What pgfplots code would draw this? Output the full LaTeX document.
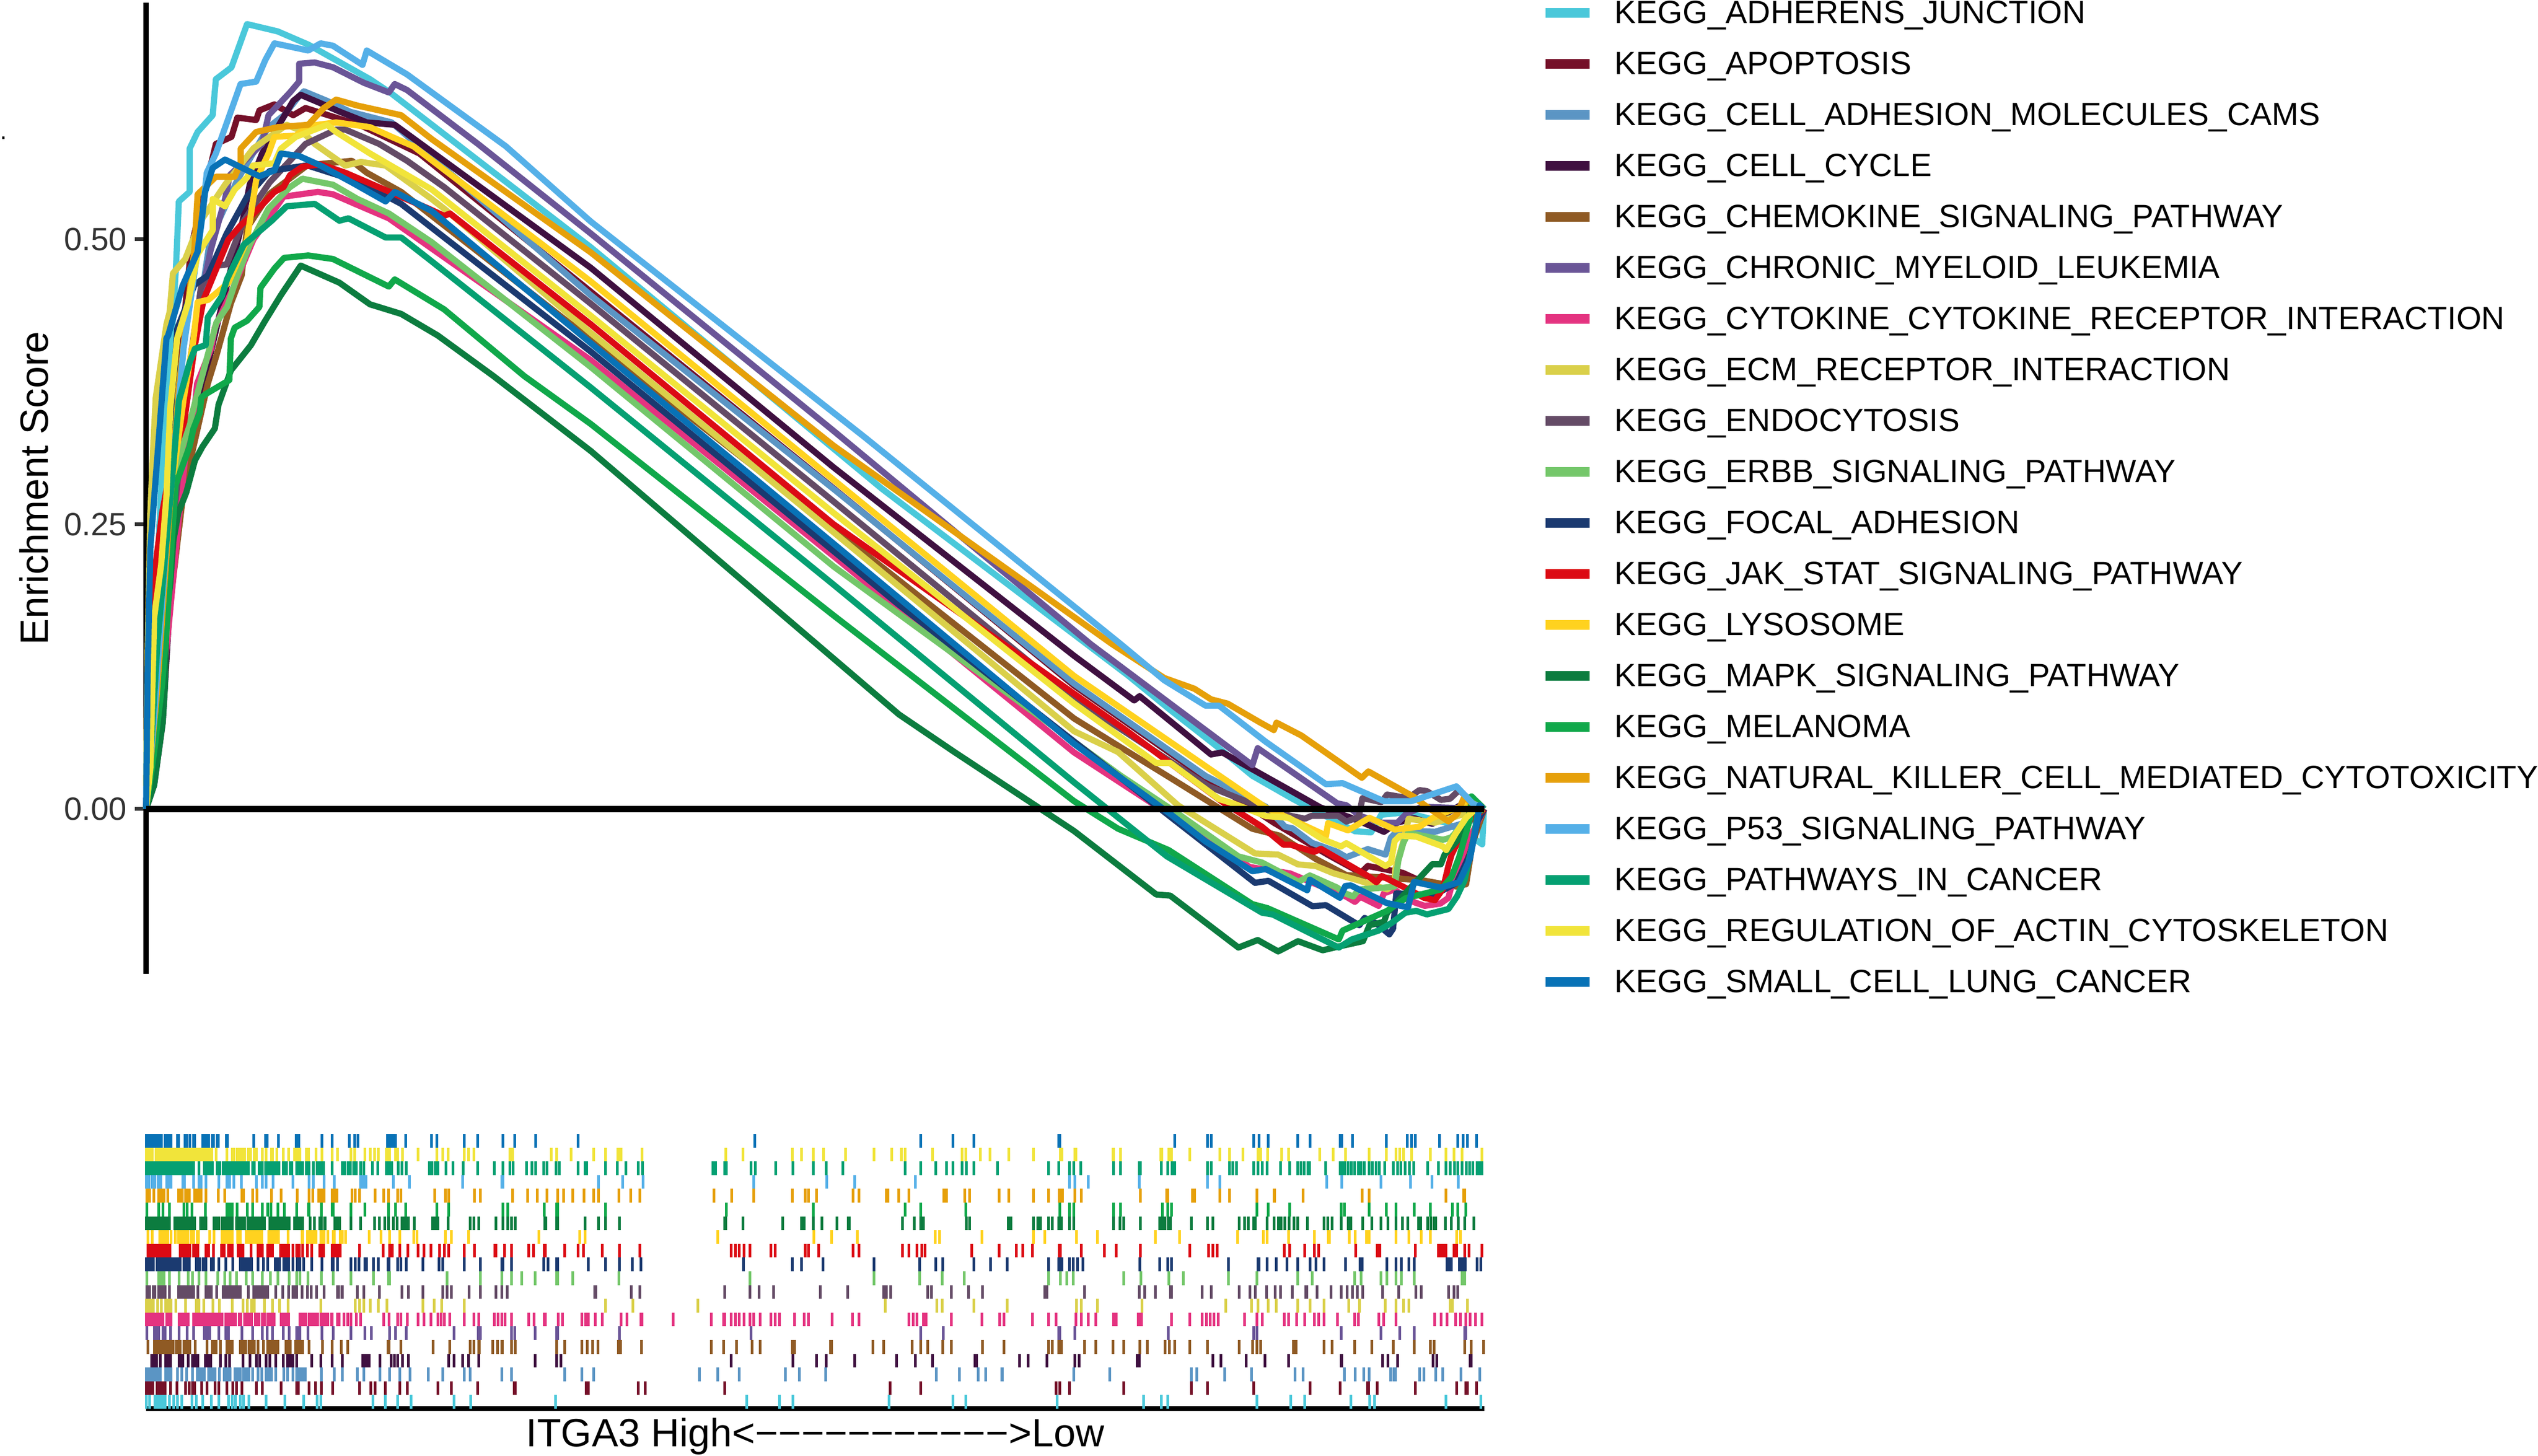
\documentclass[border=0pt]{standalone}
\usepackage{fontspec}
\setmainfont{Liberation Sans}
\usepackage{pgfplots}
\pgfplotsset{compat=1.18}

\definecolor{cAdh}{HTML}{4AC8DA}
\definecolor{cApo}{HTML}{751029}
\definecolor{cCam}{HTML}{5B95C4}
\definecolor{cCyc}{HTML}{3F1040}
\definecolor{cChe}{HTML}{8F5A24}
\definecolor{cCml}{HTML}{6A5597}
\definecolor{cCyt}{HTML}{E43380}
\definecolor{cEcm}{HTML}{DAD04A}
\definecolor{cEnd}{HTML}{644B66}
\definecolor{cErb}{HTML}{74C76A}
\definecolor{cFoc}{HTML}{1B3A70}
\definecolor{cJak}{HTML}{DC0A14}
\definecolor{cLys}{HTML}{FFD21F}
\definecolor{cMap}{HTML}{0C7C3F}
\definecolor{cMel}{HTML}{10A84A}
\definecolor{cNkc}{HTML}{E6A00A}
\definecolor{cP53}{HTML}{55B0E8}
\definecolor{cPat}{HTML}{05A072}
\definecolor{cReg}{HTML}{F1E43A}
\definecolor{cSma}{HTML}{0872B6}
\definecolor{tickgrey}{HTML}{333333}

% one row of the rug: colour, row centre, ranks
\newcommand{\rug}[3]{\addplot[only marks, mark=|, mark size=2.56pt, color=#1, mark options={line width=1pt}]
  table[row sep=crcr, header=false, x index=0, y expr=#2]{#3};}

\begin{document}
\begin{tikzpicture}
\useasboundingbox (0,0) rectangle (945.2pt,542.4pt);

\begin{axis}[
  at={(54.4pt,179.6pt)}, anchor=south west,
  scale only axis, width=498.4pt, height=361.8pt,
  xmin=0, xmax=2492, ymin=-0.1447, ymax=0.7078,
  clip=false,
  axis x line=none, axis y line=left,
  y axis line style={-, line width=2pt, black},
  ytick={0,0.25,0.5}, ytick align=outside,
  major tick length=4.2pt,
  tick style={line width=1.4pt, tickgrey},
  yticklabel style={/pgf/number format/fixed, /pgf/number format/fixed zerofill,
    /pgf/number format/precision=2, /pgf/number format/assume math mode=true,
    font=\fontsize{12}{12}\selectfont, text=tickgrey, inner xsep=2.8pt},
  ylabel={Enrichment Score},
  every axis y label/.style={at={(axis description cs:-0.0839,0.5)}, rotate=90, anchor=center},
  ylabel style={font=\fontsize{14.7}{14.7}\selectfont},
  every axis plot/.append style={line width=2.3pt, line join=round, no marks},
  legend cell align=left,
  legend image code/.code={\draw[#1, line width=3.6pt] (0,0.9pt) -- (16.4pt,0.9pt);},
  legend style={at={(1.0417,1.0)}, anchor=north west, draw=none, fill=none, inner sep=0pt, yshift=1pt,
    font=\fontsize{12}{12}\selectfont, row sep=8pt, column sep=7.6pt,
    nodes={inner sep=0pt, text height=8.6pt, text depth=2.4pt}},
]
\addplot[cAdh] coordinates {(0,0)(10,.1)(30,.3)(50,.43)(56,.4786)(61,.5333)(81,.5417)(81,.5796)(96,.5943)(124,.609)(130,.6406)(159,.651)(188,.689)(245,.6826)(302,.671)(417,.6406)(457,.628)(828,.4931)(1370,.2812)(1828,.1174)(1907,.087)(1993,.0553)(2060,.0292)(2136,.0087)(2162,.0022)(2251,-.0195)(2281,-.0205)(2300,-.005)(2345,-.003)(2420,-.012)(2470,-.025)(2488,-.031)(2491,-.002)};
\addlegendentry{KEGG\_ADHERENS\_JUNCTION}
\addplot[cApo] coordinates {(0,0)(20,.12)(50,.33)(84,.4933)(110,.545)(130,.5838)(159,.59)(170,.6069)(205,.6048)(211,.6132)(239,.6185)(274,.609)(297,.6153)(325,.6111)(400,.60)(509,.5754)(828,.4541)(1280,.2815)(1728,.1084)(1978,.0255)(2100,-.012)(2200,-.04)(2262,-.056)(2275,-.05)(2340,-.056)(2371,-.0627)(2420,-.07)(2460,-.04)(2480,-.01)(2492,0)};
\addlegendentry{KEGG\_APOPTOSIS}
\addplot[cCam] coordinates {(0,0)(20,.1)(50,.28)(80,.38)(100,.44)(119,.4996)(170,.5522)(228,.5985)(257,.609)(285,.6258)(294,.63)(337,.6216)(380,.612)(457,.6027)(828,.451)(1280,.281)(1728,.11)(1973,.029)(2085,.002)(2121,-.0156)(2135,-.017)(2171,-.0297)(2191,-.033)(2218,-.0376)(2235,-.0423)(2275,-.0352)(2308,-.04)(2318,-.025)(2331,-.0187)(2400,-.02)(2470,-.01)(2492,0)};
\addlegendentry{KEGG\_CELL\_ADHESION\_MOLECULES\_CAMS}
\addplot[cCyc] coordinates {(0,0)(15,.021)(31,.076)(45,.1864)(60,.25)(100,.36)(140,.44)(179,.5143)(193,.548)(216,.5754)(274,.6216)(288,.6269)(325,.6195)(360,.6122)(411,.6027)(463,.6006)(828,.4751)(1280,.3)(1728,.1345)(1840,.0953)(1850,.0991)(1983,.0479)(2004,.0497)(2131,.0162)(2187,.0013)(2240,-.007)(2281,-.015)(2305,-.02)(2330,-.012)(2361,-.008)(2395,-.013)(2421,-.004)(2450,.004)(2471,.006)(2492,0)};
\addlegendentry{KEGG\_CELL\_CYCLE}
\addplot[cChe] coordinates {(0,0)(20,.06)(35,.113)(38,.1527)(70,.28)(115,.3734)(131,.398)(158,.444)(178,.4685)(188,.51)(230,.54)(300,.565)(383,.569)(411,.5585)(475,.5417)(828,.412)(1280,.246)(1728,.0795)(1805,.057)(1901,.0292)(2060,-.0173)(2111,-.0234)(2178,-.0438)(2235,-.058)(2300,-.06)(2378,-.0627)(2440,-.068)(2458,-.066)(2470,-.03)(2492,0)};
\addlegendentry{KEGG\_CHEMOKINE\_SIGNALING\_PATHWAY}
\addplot[cCml] coordinates {(0,0)(30,.18)(60,.32)(90,.42)(120,.49)(147,.5354)(156,.5564)(216,.5838)(228,.609)(268,.629)(285,.6385)(285,.6542)(314,.6553)(348,.6511)(406,.6374)(452,.629)(463,.6364)(486,.6311)(618,.5838)(828,.5052)(1280,.332)(1759,.1447)(2060,.0385)(2070,.0534)(2218,.005)(2235,.0033)(2260,-.006)(2300,-.012)(2330,-.012)(2345,-.005)(2375,.002)(2492,0)};
\addlegendentry{KEGG\_CHRONIC\_MYELOID\_LEUKEMIA}
\addplot[cCyt] coordinates {(0,0)(20,.06)(40,.15)(60,.25)(75,.3183)(88,.34)(95,.3734)(121,.4041)(128,.4225)(160,.455)(200,.50)(256,.5375)(320,.5417)(348,.5396)(389,.5312)(452,.5185)(828,.394)(1280,.222)(1728,.0497)(2055,-.0509)(2130,-.0565)(2235,-.077)(2251,-.0815)(2261,-.077)(2295,-.085)(2305,-.074)(2325,-.0706)(2350,-.08)(2381,-.085)(2410,-.083)(2425,-.078)(2435,-.06)(2460,-.03)(2492,0)};
\addlegendentry{KEGG\_CYTOKINE\_CYTOKINE\_RECEPTOR\_INTERACTION}
\addplot[cEcm] coordinates {(0,.02)(3,.14)(8,.26)(13,.315)(18,.361)(38,.4255)(44,.4365)(50,.4701)(73,.4828)(100,.515)(147,.548)(200,.58)(262,.6006)(290,.595)(314,.5838)(371,.5648)(400,.568)(446,.5648)(532,.5354)(555,.527)(828,.418)(1280,.243)(1728,.0683)(1810,.05)(1922,.0031)(2065,-.039)(2108,-.04)(2145,-.0486)(2178,-.05)(2211,-.0564)(2258,-.0627)(2311,-.0706)(2325,-.066)(2326,-.053)(2340,-.03)(2351,-.0085)(2400,-.012)(2450,-.005)(2492,0)};
\addlegendentry{KEGG\_ECM\_RECEPTOR\_INTERACTION}
\addplot[cEnd] coordinates {(0,0)(20,.08)(50,.25)(80,.38)(102,.4575)(124,.4765)(150,.478)(182,.5164)(230,.55)(297,.5838)(354,.5964)(371,.5964)(434,.5838)(486,.569)(555,.5459)(828,.4436)(1280,.27)(1728,.097)(1978,.02)(2100,-.003)(2158,-.0085)(2170,-.006)(2220,-.006)(2235,-.011)(2258,-.007)(2265,.0096)(2300,.006)(2311,.0127)(2350,.0095)(2371,.0166)(2385,.0157)(2411,.008)(2428,.009)(2445,.0166)(2470,.006)(2492,0)};
\addlegendentry{KEGG\_ENDOCYTOSIS}
\addplot[cErb] coordinates {(0,0)(18,.073)(31,.0945)(43,.1987)(55,.2937)(68,.3182)(85,.3458)(110,.39)(131,.4271)(151,.4409)(170,.468)(193,.4954)(228,.527)(268,.5459)(291,.5533)(348,.548)(394,.5354)(452,.5228)(532,.4975)(828,.388)(1280,.213)(1815,.0292)(1922,-.0043)(2034,-.0416)(2078,-.047)(2146,-.0639)(2167,-.0583)(2218,-.069)(2231,-.0737)(2248,-.0768)(2258,-.0706)(2305,-.069)(2325,-.068)(2332,-.045)(2341,-.03)(2350,-.021)(2415,-.027)(2430,-.025)(2460,-.01)(2492,0)};
\addlegendentry{KEGG\_ERBB\_SIGNALING\_PATHWAY}
\addplot[cFoc] coordinates {(0,0)(20,.1)(40,.28)(58,.4215)(90,.46)(115,.4683)(150,.505)(188,.5375)(230,.56)(300,.565)(400,.55)(475,.5312)(828,.4015)(1400,.18)(2065,-.0648)(2090,-.063)(2172,-.0853)(2197,-.0844)(2259,-.1021)(2269,-.0956)(2291,-.1004)(2315,-.11)(2322,-.105)(2328,-.074)(2360,-.075)(2400,-.075)(2440,-.065)(2465,-.04)(2480,-.01)(2492,0)};
\addlegendentry{KEGG\_FOCAL\_ADHESION}
\addplot[cJak] coordinates {(0,0)(16,.208)(30,.26)(50,.31)(71,.3397)(90,.4049)(107,.447)(153,.4996)(176,.5122)(205,.5248)(239,.5417)(256,.5459)(268,.5564)(291,.5638)(325,.5659)(371,.5585)(526,.527)(555,.5207)(566,.5227)(828,.4255)(1280,.25)(1828,.068)(2004,.0063)(2078,-.0156)(2118,-.0313)(2131,-.0313)(2175,-.0376)(2188,-.035)(2278,-.0596)(2291,-.0643)(2301,-.0588)(2351,-.0706)(2380,-.078)(2400,-.08)(2415,-.07)(2425,-.05)(2431,-.04)(2460,-.012)(2492,0)};
\addlegendentry{KEGG\_JAK\_STAT\_SIGNALING\_PATHWAY}
\addplot[cLys] coordinates {(0,0)(20,.12)(50,.29)(70,.36)(88,.4112)(96,.4449)(116,.447)(153,.4617)(188,.4996)(205,.5522)(228,.5754)(239,.59)(279,.5911)(302,.5995)(354,.6027)(417,.5985)(457,.5901)(498,.5817)(828,.4631)(1280,.289)(1728,.1168)(2085,.0013)(2191,-.0219)(2197,-.024)(2201,-.0124)(2238,-.0187)(2278,-.0077)(2325,-.018)(2371,-.0156)(2395,-.008)(2425,-.002)(2460,.004)(2492,0)};
\addlegendentry{KEGG\_LYSOSOME}
\addplot[cMap] coordinates {(0,0)(15,.021)(31,.076)(35,.107)(38,.168)(45,.198)(51,.236)(60,.26)(75,.278)(91,.306)(105,.318)(128,.334)(135,.355)(158,.385)(195,.407)(221,.428)(251,.451)(288,.477)(360,.462)(417,.443)(475,.4346)(543,.4157)(647,.38)(828,.3143)(1402,.083)(1504,.0504)(1728,-.0193)(1881,-.075)(1907,-.076)(2034,-.1216)(2070,-.115)(2108,-.125)(2145,-.116)(2191,-.124)(2218,-.121)(2266,-.116)(2278,-.102)(2305,-.099)(2311,-.091)(2395,-.0485)(2411,-.0485)(2418,-.04)(2445,-.026)(2465,-.003)(2490,-.001)};
\addlegendentry{KEGG\_MAPK\_SIGNALING\_PATHWAY}
\addplot[cMel] coordinates {(0,0)(15,.05)(30,.11)(40,.17)(48,.2355)(55,.2845)(81,.3182)(88,.3336)(100,.348)(103,.3612)(111,.3642)(155,.3765)(158,.4133)(165,.4225)(188,.4286)(211,.4407)(213,.4575)(239,.4744)(257,.4838)(302,.4859)(348,.4828)(452,.4586)(463,.4649)(555,.4386)(704,.3801)(828,.338)(1280,.17)(1728,.0069)(1810,-.0173)(1904,-.036)(2060,-.0835)(2088,-.087)(2221,-.1145)(2228,-.1067)(2311,-.0894)(2345,-.0784)(2411,-.0706)(2431,-.0596)(2445,-.0423)(2465,-.0093)(2468,.0111)(2492,0)};
\addlegendentry{KEGG\_MELANOMA}
\addplot[cNkc] coordinates {(0,0)(20,.1)(45,.27)(61,.3703)(80,.45)(90,.4912)(96,.5396)(130,.555)(165,.555)(176,.567)(176,.5796)(205,.5943)(245,.5985)(302,.6006)(331,.6153)(354,.6227)(394,.6174)(475,.609)(532,.588)(828,.4886)(1280,.319)(1799,.1447)(1896,.115)(1952,.1056)(1983,.0963)(2014,.0925)(2075,.0758)(2100,.0693)(2105,.0758)(2151,.0646)(2264,.0274)(2276,.033)(2361,.0106)(2381,.0033)(2425,-.0109)(2441,-.0046)(2455,.0111)(2465,.0064)(2492,0)};
\addlegendentry{KEGG\_NATURAL\_KILLER\_CELL\_MEDIATED\_CYTOTOXICITY}
\addplot[cP53] coordinates {(0,0)(15,.08)(40,.25)(70,.405)(90,.47)(105,.52)(113,.5585)(130,.5754)(176,.6364)(205,.6385)(222,.6574)(239,.6721)(302,.6658)(325,.6721)(348,.67)(403,.6532)(411,.6658)(486,.6448)(670,.5817)(828,.5157)(1338,.3264)(1815,.1447)(1896,.113)(1973,.0907)(1998,.0907)(2085,.059)(2197,.0218)(2228,.0227)(2305,.0069)(2356,.0069)(2440,.0199)(2470,.005)(2492,0)};
\addlegendentry{KEGG\_P53\_SIGNALING\_PATHWAY}
\addplot[cPat] coordinates {(0,0)(10,.06)(21,.1435)(35,.22)(51,.3029)(61,.3581)(81,.3918)(91,.404)(111,.4072)(115,.4317)(141,.45)(151,.4654)(182,.4954)(234,.5164)(262,.5291)(314,.5312)(360,.5164)(377,.5185)(446,.5017)(475,.5017)(532,.4807)(828,.37)(1280,.197)(1728,.0234)(1901,-.0416)(2078,-.091)(2098,-.0926)(2221,-.1216)(2245,-.1145)(2295,-.1067)(2318,-.1004)(2345,-.091)(2365,-.0894)(2385,-.0925)(2425,-.0878)(2441,-.0768)(2455,-.0627)(2471,-.0281)(2481,0)(2491,0)};
\addlegendentry{KEGG\_PATHWAYS\_IN\_CANCER}
\addplot[cReg] coordinates {(0,0)(8,.036)(15,.168)(28,.214)(38,.2753)(45,.352)(58,.4133)(78,.4439)(96,.487)(124,.508)(124,.5354)(147,.5291)(165,.5438)(188,.5543)(199,.5648)(239,.5669)(251,.5796)(279,.5901)(314,.5964)(337,.6006)(354,.5943)(417,.5754)(532,.5438)(828,.433)(1280,.26)(1728,.0926)(1881,.0404)(1907,.0404)(1998,.0087)(2024,.005)(2085,-.0062)(2128,-.0077)(2191,-.0266)(2225,-.0329)(2235,-.03)(2308,-.05)(2318,-.047)(2325,-.028)(2335,-.0234)(2365,-.0242)(2415,-.0329)(2421,-.036)(2438,-.022)(2458,-.0077)(2471,-.002)(2492,0)};
\addlegendentry{KEGG\_REGULATION\_OF\_ACTIN\_CYTOSKELETON}
\addplot[cSma] coordinates {(0,0)(3,.12)(8,.2293)(18,.2907)(28,.352)(38,.4133)(41,.4155)(68,.4593)(96,.4891)(110,.5417)(124,.5627)(147,.5701)(211,.5554)(239,.5606)(251,.5754)(285,.5732)(325,.5648)(383,.5501)(446,.5333)(463,.5417)(532,.5249)(828,.409)(1280,.233)(1728,.0572)(1907,-.0043)(1973,-.0285)(2060,-.0546)(2085,-.0527)(2162,-.0713)(2167,-.062)(2223,-.0779)(2233,-.0676)(2243,-.067)(2310,-.0825)(2350,-.0863)(2361,-.0639)(2411,-.069)(2445,-.0642)(2465,-.0439)(2478,-.0124)(2483,.0033)(2490,0)};
\addlegendentry{KEGG\_SMALL\_CELL\_LUNG\_CANCER}
\addplot[black, line width=2.4pt, forget plot] coordinates {(0,0)(2492,0)};
\end{axis}

\begin{axis}[
  at={(54.4pt,17.6pt)}, anchor=south west,
  scale only axis, width=498.4pt, height=102.4pt,
  xmin=0, xmax=2492, ymin=0, ymax=20,
  clip=false,
  axis y line=none, axis x line=bottom,
  x axis line style={-, line width=1.8pt, black},
  xtick=\empty,
  xlabel={ITGA3 High<−−−−−−−−−−−>Low},
  xlabel style={font=\fontsize{14.7}{14.7}\selectfont, at={(axis description cs:0.5,0)}, anchor=center, yshift=-10.4pt},
]
\rug{cAdh}{0.5}{0\\6\\16\\19\\22\\25\\30\\33\\35\\43\\51\\58\\66\\85\\93\\105\\121\\135\\153\\160\\166\\175\\181\\191\\223\\258\\293\\318\\325\\422\\445\\468\\493\\573\\604\\762\\1118\\1179\\1204\\1383\\1502\\1526\\1696\\1857\\1890\\1902\\2068\\2131\\2157\\2243\\2278\\2287\\2420\\2485\\}
\rug{cApo}{1.5}{0\\3\\6\\9\\12\\20\\23\\26\\30\\35\\45\\57\\73\\80\\86\\90\\103\\113\\128\\135\\150\\161\\168\\178\\205\\216\\251\\280\\283\\303\\315\\326\\347\\397\\418\\426\\445\\472\\486\\543\\568\\617\\685\\687\\819\\823\\916\\929\\1077\\1385\\1442\\1694\\1701\\1719\\1820\\1946\\1976\\2062\\2167\\2223\\2274\\2276\\2292\\2363\\2440\\2457\\2460\\2477\\}
\rug{cCam}{2.5}{0\\3\\6\\9\\11\\16\\19\\22\\26\\36\\39\\42\\46\\58\\66\\75\\86\\95\\98\\101\\104\\108\\116\\119\\122\\125\\128\\136\\145\\148\\151\\154\\156\\165\\170\\175\\181\\184\\187\\191\\198\\208\\215\\223\\226\\229\\233\\241\\256\\263\\273\\280\\283\\286\\289\\292\\296\\326\\350\\365\\393\\405\\435\\453\\472\\491\\525\\552\\592\\603\\662\\680\\779\\811\\833\\1030\\1064\\1104\\1190\\1216\\1265\\1471\\1514\\1549\\1563\\1593\\1594\\1727\\1794\\1946\\1956\\2008\\2058\\2139\\2154\\2231\\2251\\2267\\2277\\2317\\2323\\2326\\2371\\2379\\2401\\2414\\2448\\2483\\}
\rug{cCyc}{3.5}{10\\15\\19\\26\\36\\39\\42\\45\\61\\64\\68\\78\\86\\89\\92\\96\\110\\113\\116\\120\\138\\148\\155\\180\\193\\205\\211\\223\\230\\241\\255\\263\\267\\270\\273\\280\\308\\325\\346\\365\\403\\406\\409\\412\\415\\435\\456\\462\\468\\477\\488\\563\\573\\589\\600\\619\\724\\764\\772\\1089\\1204\\1248\\1266\\1319\\1397\\1432\\1464\\1543\\1546\\1626\\1642\\1677\\1729\\1737\\1845\\1847\\1849\\1986\\2001\\2048\\2083\\2127\\2225\\2226\\2302\\2312\\2330\\2396\\2403\\2465\\2467\\}
\rug{cChe}{4.5}{3\\15\\18\\21\\23\\26\\29\\32\\35\\38\\41\\45\\50\\56\\60\\63\\70\\73\\76\\79\\81\\91\\113\\123\\126\\130\\138\\150\\155\\160\\175\\178\\181\\185\\191\\194\\197\\201\\208\\218\\226\\229\\232\\235\\238\\241\\245\\260\\264\\268\\278\\281\\284\\287\\291\\303\\328\\346\\363\\375\\450\\452\\474\\534\\565\\603\\610\\619\\620\\645\\654\\662\\663\\680\\687\\764\\779\\811\\821\\831\\841\\879\\881\\883\\922\\1052\\1075\\1099\\1128\\1143\\1203\\1207\\1274\\1276\\1353\\1373\\1426\\1442\\1455\\1483\\1499\\1557\\1597\\1680\\1687\\1699\\1704\\1747\\1768\\1800\\1820\\1850\\1864\\1897\\1905\\1915\\1943\\1976\\2035\\2060\\2068\\2075\\2136\\2141\\2193\\2208\\2250\\2282\\2322\\2361\\2391\\2398\\2455\\2467\\2490\\}
\rug{cCml}{5.5}{1\\15\\19\\23\\31\\33\\35\\45\\61\\76\\88\\108\\111\\114\\118\\135\\148\\153\\178\\198\\216\\225\\235\\255\\266\\280\\283\\286\\301\\327\\348\\381\\407\\419\\453\\464\\484\\573\\618\\622\\680\\686\\724\\764\\766\\881\\1126\\1442\\1484\\1699\\1701\\1729\\1903\\2062\\2068\\2225\\2299\\2334\\2361\\2455\\2457\\}
\rug{cCyt}{6.5}{0\\3\\6\\9\\12\\15\\18\\21\\24\\26\\28\\31\\38\\41\\44\\46\\61\\64\\66\\71\\74\\78\\88\\91\\94\\97\\100\\103\\108\\111\\114\\117\\120\\123\\126\\129\\132\\135\\138\\141\\148\\151\\153\\156\\159\\162\\166\\173\\176\\183\\186\\189\\192\\196\\203\\206\\210\\216\\220\\226\\229\\232\\235\\238\\251\\254\\257\\260\\265\\286\\290\\295\\303\\308\\315\\325\\331\\338\\346\\356\\368\\375\\287\\292\\297\\310\\319\\328\\335\\345\\359\\381\\391\\399\\442\\452\\468\\474\\486\\506\\517\\530\\543\\549\\555\\565\\592\\610\\619\\648\\655\\662\\668\\680\\712\\722\\741\\743\\767\\775\\811\\818\\823\\836\\849\\884\\895\\921\\923\\981\\1052\\1075\\1077\\1089\\1097\\1104\\1113\\1124\\1131\\1143\\1163\\1171\\1179\\1207\\1225\\1233\\1277\\1315\\1327\\1420\\1428\\1435\\1447\\1452\\1499\\1556\\1589\\1597\\1650\\1680\\1694\\1731\\1741\\1754\\1768\\1801\\1806\\1847\\1850\\1853\\1909\\1943\\1966\\1974\\1981\\1988\\1996\\2045\\2068\\2078\\2119\\2127\\2142\\2157\\2175\\2183\\2193\\2218\\2250\\2257\\2295\\2304\\2327\\2399\\2411\\2422\\2438\\2447\\2457\\2465\\2475\\2487\\}
\rug{cEcm}{7.5}{0\\3\\6\\9\\13\\21\\28\\36\\39\\42\\46\\55\\73\\93\\96\\98\\107\\124\\136\\160\\180\\188\\196\\201\\220\\235\\248\\264\\325\\389\\397\\405\\417\\432\\448\\515\\536\\550\\592\\855\\906\\1027\\1376\\1472\\1482\\1541\\1603\\1732\\1741\\1771\\1854\\2010\\2058\\2070\\2089\\2104\\2144\\2167\\2193\\2239\\2259\\2307\\2327\\2341\\2351\\2428\\2432\\2460\\}
\rug{cEnd}{8.5}{1\\3\\6\\13\\16\\23\\26\\29\\32\\35\\43\\60\\63\\66\\69\\72\\75\\78\\81\\84\\88\\96\\111\\116\\121\\131\\143\\147\\151\\153\\156\\159\\162\\165\\168\\171\\175\\190\\200\\203\\206\\209\\212\\215\\218\\221\\224\\226\\241\\254\\265\\273\\276\\280\\290\\300\\307\\317\\331\\356\\365\\358\\364\\393\\405\\434\\476\\488\\515\\552\\560\\568\\601\\622\\651\\662\\672\\835\\837\\903\\919\\1077\\1124\\1141\\1168\\1255\\1306\\1373\\1378\\1386\\1455\\1462\\1499\\1531\\1557\\1673\\1677\\1747\\1849\\1859\\1879\\1907\\1909\\1966\\1983\\2035\\2055\\2065\\2086\\2102\\2112\\2134\\2159\\2161\\2180\\2206\\2225\\2236\\2246\\2255\\2265\\2302\\2332\\2364\\2374\\2425\\2435\\2442\\}
\rug{cErb}{9.5}{1\\23\\26\\30\\33\\43\\61\\78\\86\\98\\111\\133\\146\\156\\168\\186\\198\\216\\231\\245\\266\\280\\286\\301\\326\\348\\381\\423\\451\\453\\560\\622\\662\\680\\699\\724\\764\\766\\794\\880\\1124\\1355\\1440\\1482\\1523\\1680\\1702\\1714\\1726\\1820\\1852\\1904\\1931\\2015\\2068\\2144\\2171\\2250\\2262\\2299\\2310\\2327\\2337\\2361\\2450\\2455\\}
\rug{cFoc}{10.5}{0\\3\\6\\9\\13\\20\\23\\26\\29\\32\\35\\38\\41\\46\\51\\54\\57\\60\\63\\70\\73\\76\\80\\93\\96\\100\\106\\111\\121\\125\\135\\148\\161\\175\\178\\181\\184\\188\\191\\196\\208\\218\\226\\240\\244\\248\\256\\259\\262\\265\\273\\281\\286\\293\\308\\327\\346\\356\\348\\381\\389\\396\\407\\410\\423\\432\\450\\452\\468\\474\\484\\515\\545\\552\\592\\622\\662\\664\\680\\740\\748\\764\\766\\823\\855\\881\\905\\921\\1112\\1203\\1220\\1260\\1355\\1440\\1470\\1483\\1541\\1572\\1603\\1680\\1699\\1702\\1705\\1719\\1726\\1734\\1744\\1850\\1887\\1902\\1909\\2015\\2070\\2072\\2087\\2104\\2124\\2144\\2167\\2178\\2193\\2233\\2260\\2262\\2264\\2310\\2327\\2337\\2351\\2361\\2422\\2425\\2428\\2430\\2445\\2448\\2452\\2456\\2478\\2485\\}
\rug{cJak}{11.5}{3\\6\\10\\13\\16\\19\\23\\28\\31\\34\\37\\40\\44\\63\\66\\69\\72\\75\\78\\81\\88\\91\\94\\96\\111\\114\\116\\125\\140\\145\\153\\156\\160\\171\\174\\177\\180\\195\\208\\212\\216\\226\\229\\232\\235\\250\\255\\260\\265\\273\\280\\285\\291\\300\\308\\323\\326\\330\\346\\349\\352\\355\\358\\361\\397\\441\\453\\458\\472\\487\\506\\517\\530\\546\\555\\563\\592\\611\\649\\651\\667\\680\\712\\721\\741\\743\\779\\804\\814\\849\\881\\919\\1089\\1097\\1104\\1113\\1124\\1163\\1171\\1227\\1233\\1252\\1316\\1327\\1408\\1420\\1435\\1444\\1450\\1537\\1588\\1620\\1632\\1650\\1700\\1702\\1741\\1784\\1806\\1851\\1943\\1978\\1986\\1994\\2119\\2129\\2157\\2175\\2183\\2252\\2292\\2297\\2363\\2406\\2411\\2416\\2420\\2435\\2440\\2455\\2463\\2487\\}
\rug{cLys}{12.5}{3\\11\\25\\28\\31\\34\\37\\40\\46\\54\\60\\64\\68\\72\\77\\83\\88\\95\\97\\118\\126\\141\\144\\147\\150\\155\\160\\170\\173\\175\\186\\189\\192\\195\\198\\201\\204\\207\\210\\215\\228\\231\\234\\237\\240\\243\\246\\264\\290\\303\\311\\325\\331\\338\\350\\365\\371\\291\\300\\306\\316\\329\\348\\361\\415\\437\\453\\472\\498\\504\\557\\568\\600\\731\\807\\817\\1064\\1243\\1276\\1324\\1469\\1477\\1556\\1652\\1673\\1732\\1771\\1879\\1924\\2032\\2080\\2087\\2127\\2175\\2201\\2203\\2240\\2251\\2272\\2277\\2327\\2351\\2374\\2391\\2440\\2447\\}
\rug{cMap}{13.5}{0\\3\\6\\9\\12\\15\\18\\21\\24\\26\\31\\34\\37\\40\\43\\53\\56\\59\\61\\66\\68\\70\\75\\78\\83\\86\\90\\101\\104\\107\\111\\126\\129\\132\\135\\141\\144\\147\\151\\156\\160\\168\\171\\174\\177\\180\\183\\189\\192\\195\\198\\201\\204\\207\\210\\213\\216\\220\\230\\233\\236\\239\\242\\245\\248\\251\\254\\257\\260\\263\\266\\276\\279\\282\\285\\288\\291\\305\\323\\333\\351\\360\\313\\326\\332\\354\\359\\381\\399\\425\\434\\444\\451\\460\\467\\476\\480\\484\\488\\499\\533\\538\\543\\562\\603\\610\\619\\651\\664\\673\\680\\687\\742\\744\\764\\766\\817\\842\\855\\881\\1077\\1079\\1111\\1185\\1220\\1225\\1242\\1258\\1286\\1307\\1309\\1408\\1430\\1442\\1447\\1527\\1533\\1605\\1610\\1652\\1660\\1665\\1680\\1687\\1699\\1704\\1719\\1727\\1801\\1813\\1820\\1851\\1887\\1892\\1897\\1903\\1907\\1946\\1976\\1986\\2035\\2045\\2052\\2062\\2065\\2087\\2100\\2108\\2113\\2120\\2128\\2137\\2144\\2162\\2193\\2200\\2208\\2225\\2238\\2243\\2265\\2282\\2299\\2312\\2327\\2339\\2349\\2369\\2373\\2386\\2392\\2398\\2401\\2419\\2430\\2443\\2455\\2472\\}
\rug{cMel}{14.5}{1\\23\\31\\43\\70\\76\\85\\110\\150\\155\\160\\169\\188\\198\\216\\226\\232\\245\\257\\280\\303\\326\\346\\302\\348\\381\\407\\451\\464\\483\\541\\563\\664\\673\\741\\764\\766\\855\\1080\\1242\\1413\\1442\\1526\\1701\\1719\\1727\\1801\\1814\\1892\\1902\\1909\\2068\\2089\\2129\\2225\\2231\\2277\\2309\\2327\\2361\\2391\\2432\\2442\\2457\\}
\rug{cNkc}{15.5}{1\\6\\14\\23\\26\\29\\33\\40\\60\\63\\67\\73\\76\\80\\90\\93\\97\\102\\111\\134\\146\\178\\181\\198\\206\\233\\251\\281\\303\\310\\321\\324\\327\\331\\346\\350\\355\\383\\389\\397\\426\\442\\451\\468\\474\\537\\557\\563\\611\\622\\682\\710\\728\\746\\766\\777\\794\\815\\833\\842\\880\\902\\919\\1057\\1090\\1131\\1203\\1227\\1233\\1248\\1316\\1327\\1378\\1381\\1401\\1420\\1485\\1490\\1524\\1533\\1588\\1606\\1652\\1680\\1700\\1703\\1706\\1729\\1741\\1851\\1900\\1902\\1948\\1952\\1999\\2017\\2068\\2100\\2101\\2154\\2264\\2277\\2420\\2453\\2455\\}
\rug{cP53}{16.5}{0\\5\\11\\16\\22\\27\\38\\41\\44\\46\\68\\71\\88\\98\\102\\111\\135\\150\\155\\163\\177\\205\\216\\223\\236\\273\\303\\311\\331\\350\\399\\404\\409\\460\\490\\589\\662\\664\\842\\887\\925\\1131\\1267\\1319\\1432\\1719\\1729\\1754\\1849\\1976\\1999\\2198\\2226\\2299\\2354\\2394\\2443\\}
\rug{cPat}{17.5}{0\\3\\6\\8\\13\\16\\19\\22\\25\\28\\31\\34\\37\\40\\43\\46\\51\\54\\57\\60\\63\\66\\68\\72\\75\\78\\81\\84\\88\\98\\108\\111\\114\\118\\123\\132\\135\\137\\143\\146\\149\\152\\155\\158\\163\\168\\171\\174\\177\\180\\183\\186\\190\\198\\201\\210\\213\\216\\222\\226\\231\\234\\237\\240\\245\\247\\255\\258\\261\\268\\271\\280\\283\\286\\291\\298\\303\\311\\318\\321\\325\\328\\330\\346\\365\\370\\376\\380\\386\\391\\399\\405\\421\\431\\447\\452\\457\\469\\476\\484\\527\\532\\538\\543\\558\\571\\590\\617\\648\\664\\677\\683\\708\\718\\725\\740\\746\\763\\769\\804\\817\\820\\855\\877\\893\\916\\924\\1055\\1060\\1077\\1080\\1126\\1134\\1172\\1204\\1242\\1266\\1297\\1413\\1442\\1470\\1490\\1502\\1519\\1527\\1541\\1585\\1680\\1699\\1719\\1727\\1740\\1801\\1814\\1849\\1851\\1890\\1902\\1910\\1915\\1976\\1983\\2017\\2023\\2030\\2062\\2070\\2078\\2087\\2112\\2129\\2144\\2150\\2156\\2163\\2166\\2196\\2223\\2228\\2232\\2238\\2244\\2250\\2257\\2262\\2268\\2277\\2283\\2290\\2296\\2306\\2322\\2330\\2336\\2344\\2352\\2360\\2386\\2406\\2420\\2428\\2436\\2442\\2450\\2458\\2464\\2470\\2478\\2481\\2484\\2487\\}
\rug{cReg}{18.5}{0\\3\\6\\9\\11\\18\\21\\24\\27\\30\\33\\36\\39\\42\\45\\49\\53\\56\\59\\62\\65\\70\\73\\76\\79\\82\\87\\91\\94\\97\\100\\103\\106\\109\\113\\118\\122\\130\\150\\160\\163\\169\\173\\178\\183\\190\\194\\201\\205\\216\\223\\233\\235\\243\\255\\265\\276\\279\\282\\286\\298\\302\\316\\327\\346\\356\\381\\388\\407\\417\\425\\432\\447\\450\\453\\464\\468\\477\\506\\541\\552\\562\\592\\600\\610\\677\\682\\754\\764\\791\\833\\855\\878\\881\\884\\923\\1079\\1111\\1203\\1220\\1242\\1261\\1302\\1355\\1388\\1406\\1413\\1464\\1519\\1526\\1553\\1571\\1606\\1652\\1702\\1705\\1729\\1731\\1800\\1801\\1814\\1889\\1891\\1904\\1909\\1943\\1999\\2017\\2042\\2070\\2075\\2088\\2114\\2127\\2185\\2210\\2233\\2277\\2309\\2327\\2334\\2341\\2356\\2391\\2420\\2435\\2450\\2487\\}
\rug{cSma}{19.5}{0\\3\\6\\8\\11\\13\\18\\21\\23\\25\\28\\35\\38\\41\\44\\46\\58\\60\\72\\75\\81\\88\\90\\105\\108\\111\\114\\116\\123\\125\\132\\134\\149\\151\\200\\222\\225\\246\\279\\282\\284\\327\\346\\378\\388\\394\\449\\452\\457\\460\\464\\483\\531\\541\\592\\617\\664\\686\\725\\804\\1133\\1442\\1502\\1541\\1699\\1701\\1915\\1976\\1983\\2062\\2072\\2089\\2144\\2167\\2223\\2226\\2246\\2309\\2348\\2356\\2363\\2408\\2442\\2452\\2460\\2477\\}
\end{axis}

\node[font=\fontsize{9}{9}\selectfont, inner sep=0pt] at (1.4pt,491pt) {.};
\end{tikzpicture}
\end{document}
